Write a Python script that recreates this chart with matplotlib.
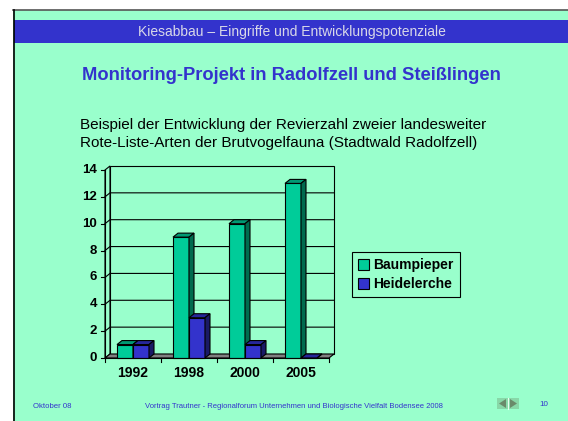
import matplotlib
matplotlib.use("Agg")
from matplotlib import pyplot as plt
from matplotlib.patches import Rectangle, Polygon
import numpy as np

plt.rcParams['font.family'] = ['Liberation Sans', 'DejaVu Sans']

years = ['1992', '1998', '2000', '2005']
baumpieper = [1, 9, 10, 13]
heidelerche = [1, 3, 1, 0]
series_names = ['Baumpieper', 'Heidelerche']
yticks = [0, 2, 4, 6, 8, 10, 12, 14]

MINT = '#99FFCC'
BLUE = '#3333CC'
face = {'Baumpieper': ('#00CC99', '#009973', '#006B4E'),
        'Heidelerche': ('#3333CC', '#26269A', '#1A1A66')}

W, H = 568, 421
fig = plt.figure(figsize=(W / 100, H / 100), dpi=100, facecolor='white')

########################## slide background ##########################
bg = fig.add_axes([0, 0, 1, 1])
bg.set_xlim(0, W)
bg.set_ylim(H, 0)
bg.axis('off')
bg.add_patch(Rectangle((13, 9.5), W, H, facecolor=MINT, edgecolor='none'))
bg.plot([13, W], [9.5, 9.5], color='#555555', lw=1.2)
bg.plot([13.5, 13.5], [9.5, H], color='black', lw=1.2)
bg.add_patch(Rectangle((14, 20), W, 23, facecolor=BLUE, edgecolor='none'))
bg.text(292, 32, 'Kiesabbau – Eingriffe und Entwicklungspotenziale', color='#D8D8E8',
        fontsize=10, ha='center', va='center')
bg.text(291, 76, 'Monitoring-Projekt in Radolfzell und Steißlingen', color=BLUE,
        fontsize=13.2, fontweight='bold', ha='center', va='center')
bg.text(80, 125, 'Beispiel der Entwicklung der Revierzahl zweier landesweiter', color='black',
        fontsize=11, ha='left', va='center')
bg.text(80, 143, 'Rote-Liste-Arten der Brutvogelfauna (Stadtwald Radolfzell)', color='black',
        fontsize=11, ha='left', va='center')
# footer
bg.text(33, 406, 'Oktober 08', color=BLUE, fontsize=5.6, ha='left', va='center')
bg.text(294, 406, 'Vortrag Trautner - Regionalforum Unternehmen und Biologische Vielfalt Bodensee 2008',
        color=BLUE, fontsize=5.5, ha='center', va='center')
bg.text(539, 404, '10', color=BLUE, fontsize=5.8, ha='left', va='center')
bg.add_patch(Rectangle((497, 398), 22, 11, facecolor='#88D8A8', edgecolor='none'))
bg.add_patch(Polygon([[506, 399], [506, 408], [499, 403.5]], facecolor='#6A8A6A', edgecolor='none'))
bg.add_patch(Polygon([[510, 399], [510, 408], [517, 403.5]], facecolor='#6A8A6A', edgecolor='none'))
bg.plot([508, 508], [398, 409], color='#E8FFF0', lw=0.8)

########################## 3D-style bar chart ##########################
x0px, xstep = 105, 56.0      # pixel of category 0 and width of a category
y0px, ystep = 358, 13.43     # pixel of value 0 and pixels per unit
L, R, T, B = 85, 345, 160, 385
ax = fig.add_axes([L / W, 1 - B / H, (R - L) / W, (B - T) / H])
ax.set_xlim((L - x0px) / xstep, (R - x0px) / xstep)
ax.set_ylim((y0px - B) / ystep, (y0px - T) / ystep)
ax.axis('off')

n = len(years)
ymax = yticks[-1]
dx, dy = 5 / xstep, 4 / ystep
lw = 0.8

# left wall, back wall, floor
ax.add_patch(Polygon([[0, 0], [dx, dy], [dx, ymax + dy], [0, ymax]], facecolor=MINT,
                     edgecolor='black', lw=lw, zorder=1))
ax.add_patch(Rectangle((dx, dy), n, ymax, facecolor=MINT, edgecolor='black', lw=lw, zorder=1))
ax.add_patch(Polygon([[0, 0], [n, 0], [n + dx, dy], [dx, dy]], facecolor='#808080',
                     edgecolor='black', lw=lw, zorder=2))
for v in yticks[1:-1]:
    ax.plot([0, dx, n + dx], [v, v + dy, v + dy], color='black', lw=lw, zorder=1.5)

# axes lines, ticks, labels
ax.plot([0, 0], [0, ymax], color='black', lw=lw, zorder=6)
ax.plot([0, n], [0, 0], color='black', lw=lw, zorder=6)
for v in yticks:
    ax.plot([-4 / xstep, 0], [v, v], color='black', lw=lw, zorder=6)
    ax.text(-8 / xstep, v, str(v), ha='right', va='center', fontsize=9.5, fontweight='bold')
for i in range(n + 1):
    ax.plot([i, i], [0, -4 / ystep], color='black', lw=lw, zorder=6)
for i, yr in enumerate(years):
    ax.text(i + 0.5, -15 / ystep, yr, ha='center', va='center', fontsize=10, fontweight='bold')

bw = 16 / xstep
xs = np.arange(n) + 0.5
handles = []
for k, (name, vals) in enumerate(zip(series_names, [baumpieper, heidelerche])):
    front, top, side = face[name]
    left = xs - bw + k * bw
    bars = ax.bar(left, vals, width=bw, align='edge', color=front, edgecolor='black',
                  lw=lw, zorder=3 + k)
    handles.append(bars)
    for xl, h in zip(left, vals):
        xr = xl + bw
        ax.add_patch(Polygon([[xl, h], [xr, h], [xr + dx, h + dy], [xl + dx, h + dy]],
                             facecolor=top, edgecolor='black', lw=lw, zorder=3 + k))
        ax.add_patch(Polygon([[xr, 0], [xr + dx, dy], [xr + dx, h + dy], [xr, h]],
                             facecolor=side, edgecolor='black', lw=lw, zorder=3 + k))

leg = fig.legend(handles, series_names, loc='upper left',
                 bbox_to_anchor=(352 / W, 1 - 252 / H), frameon=True, fancybox=False,
                 edgecolor='black', facecolor=MINT, framealpha=1,
                 prop={'size': 10, 'weight': 'bold'}, handlelength=0.8, handleheight=0.8,
                 handletextpad=0.3, borderpad=0.45, labelspacing=0.35, borderaxespad=0)
leg.get_frame().set_linewidth(0.8)

plt.savefig('out.png', dpi=100, facecolor='white')
